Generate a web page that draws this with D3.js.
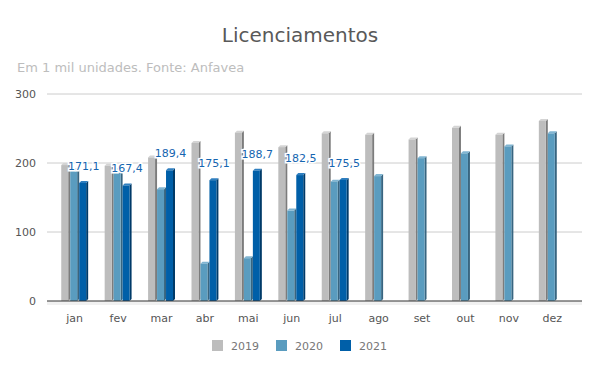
<!DOCTYPE html>
<html>
<head>
<meta charset="utf-8">
<script src="https://cdn.jsdelivr.net/npm/d3@7"></script>
<style>
  body { margin: 0; background: #fff; }
  text { font-family: "DejaVu Sans", sans-serif; }
</style>
</head>
<body>
<svg width="600" height="371"></svg>
<script>
var months = ["jan", "fev", "mar", "abr", "mai", "jun", "jul", "ago", "set", "out", "nov", "dez"];
var series = ["2019", "2020", "2021"];
var v2019 = [197, 196, 208, 229, 244, 223, 243, 241, 234, 251, 241, 261];
var v2020 = [190, 189, 162, 54, 62, 131, 173, 181, 207, 214, 224, 243];
var v2021 = [171.1, 167.4, 189.4, 175.1, 188.7, 182.5, 175.5, null, null, null, null, null];
var yTicks = [0, 100, 200, 300];

var colors = {
  "2019": { front: "#bdbdbd", side: "#7c7c7c", top: "#d4d4d4" },
  "2020": { front: "#5a9cbf", side: "#386580", top: "#80b5d2" },
  "2021": { front: "#005fa8", side: "#003a68", top: "#2f7fc0" }
};

function main() {
  var svg = d3.select("svg");
  var left = 47, right = 582, base = 301, depth = 2;

  var y = d3.scaleLinear().domain([0, 300]).range([base, 94]);
  var x0 = d3.scaleBand().domain(months).range([53, 574]).paddingInner(0.38).paddingOuter(0.19);
  var x1 = d3.scaleBand().domain(series).range([0, x0.bandwidth()]);
  var fw = x1.bandwidth() - depth;

  svg.append("text")
    .attr("x", 300).attr("y", 42)
    .attr("text-anchor", "middle")
    .attr("font-size", "20px")
    .attr("fill", "#595959")
    .text("Licenciamentos");

  svg.append("text")
    .attr("x", 17).attr("y", 72)
    .attr("font-size", "13px")
    .attr("fill", "#bdbdbd")
    .text("Em 1 mil unidades. Fonte: Anfavea");

  // floor shadow
  svg.append("rect")
    .attr("x", left).attr("y", base)
    .attr("width", right - left).attr("height", 4)
    .attr("fill", "#f1f1f1");

  var grid = svg.append("g");
  grid.selectAll("line")
    .data(yTicks.filter(function(t) { return t > 0; }))
    .enter().append("line")
    .attr("x1", left).attr("x2", right)
    .attr("y1", function(d) { return y(d); })
    .attr("y2", function(d) { return y(d); })
    .attr("stroke", "#cccccc");

  svg.append("g").selectAll("text")
    .data(yTicks)
    .enter().append("text")
    .attr("x", 36)
    .attr("y", function(d) { return y(d) + 4; })
    .attr("text-anchor", "end")
    .attr("font-size", "11px")
    .attr("fill", "#555")
    .text(function(d) { return d; });

  var rows = [];
  months.forEach(function(m, i) {
    rows.push({ m: m, s: "2019", v: v2019[i] });
    rows.push({ m: m, s: "2020", v: v2020[i] });
    if (v2021[i] != null) rows.push({ m: m, s: "2021", v: v2021[i] });
  });

  var bars = svg.append("g").selectAll("g")
    .data(rows)
    .enter().append("g");

  bars.each(function(d) {
    var g = d3.select(this);
    var bx = x0(d.m) + x1(d.s);
    var by = y(d.v);
    var c = colors[d.s];
    g.append("polygon")
      .attr("points", [[bx + fw, by], [bx + fw + depth, by - depth], [bx + fw + depth, base - depth], [bx + fw, base]].join(" "))
      .attr("fill", c.side);
    g.append("polygon")
      .attr("points", [[bx, by], [bx + depth, by - depth], [bx + fw + depth, by - depth], [bx + fw, by]].join(" "))
      .attr("fill", c.top);
    g.append("rect")
      .attr("x", bx).attr("y", by)
      .attr("width", fw).attr("height", base - by)
      .attr("fill", c.front);
  });

  svg.append("line")
    .attr("x1", left).attr("x2", right)
    .attr("y1", base).attr("y2", base)
    .attr("stroke", "#333").attr("stroke-width", 1.2);

  // data labels for 2021
  svg.append("g").selectAll("text")
    .data(rows.filter(function(d) { return d.s == "2021"; }))
    .enter().append("text")
    .attr("x", function(d) { return x0(d.m) + x1(d.s) + fw / 2 + 1; })
    .attr("y", function(d) { return y(d.v) - 13; })
    .attr("text-anchor", "middle")
    .attr("font-size", "11px")
    .attr("fill", "#1565b0")
    .attr("stroke", "#fff").attr("stroke-width", 3)
    .attr("paint-order", "stroke")
    .text(function(d) { return String(d.v.toFixed(1)).replace(".", ","); });

  svg.append("g").selectAll("text")
    .data(months)
    .enter().append("text")
    .attr("x", function(d) { return x0(d) + x0.bandwidth() / 2; })
    .attr("y", 322)
    .attr("text-anchor", "middle")
    .attr("font-size", "11px")
    .attr("fill", "#555")
    .text(function(d) { return d; });

  var legend = svg.append("g").selectAll("g")
    .data(series)
    .enter().append("g")
    .attr("transform", function(d, i) { return "translate(" + (212 + i * 64) + ",340)"; });
  legend.append("rect")
    .attr("width", 11).attr("height", 11)
    .attr("fill", function(d) { return colors[d].front; });
  legend.append("text")
    .attr("x", 19).attr("y", 10)
    .attr("font-size", "11px")
    .attr("fill", "#777")
    .text(function(d) { return d; });
}
main();
</script>
</body>
</html>
